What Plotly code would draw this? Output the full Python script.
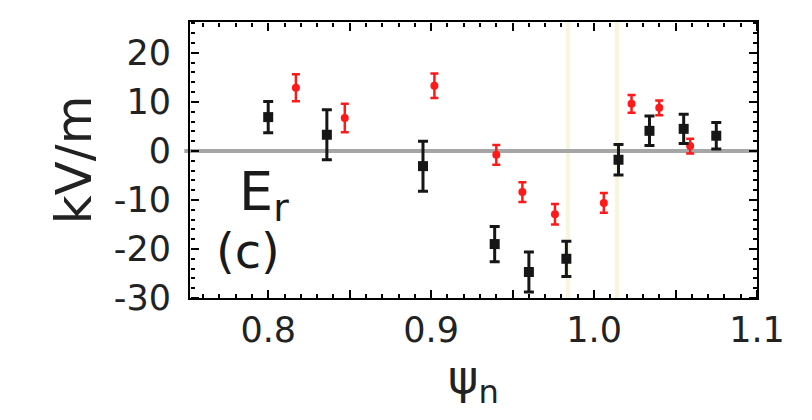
import plotly.graph_objects as go

# Black series (squares)
bx = [0.800, 0.836, 0.895, 0.939, 0.960, 0.983, 1.015, 1.034, 1.055, 1.075]
by = [6.9, 3.3, -3.1, -19.0, -24.7, -22.0, -1.8, 4.1, 4.5, 3.1]
be = [3.2, 5.1, 5.1, 3.6, 4.1, 3.6, 3.1, 3.0, 3.0, 2.7]

# Red series (small dots)
rx = [0.817, 0.847, 0.902, 0.940, 0.956, 0.976, 1.006, 1.023, 1.040, 1.059]
ry = [12.9, 6.7, 13.3, -0.8, -8.4, -12.9, -10.6, 9.6, 8.8, 1.0]
re = [2.75, 2.9, 2.5, 2.0, 2.0, 2.1, 2.0, 1.8, 1.5, 1.5]

# Faint vertical reference lines
vlines = [0.984, 1.014]

XRANGE = [0.752, 1.1]
YRANGE = [-30, 26.3]
yalias = {"−10": "-10", "−20": "-20", "−30": "-30"}

FONT = "DejaVu Sans"
INK = "black"

fig = go.Figure()

fig.add_trace(go.Scatter(
    x=rx, y=ry, mode="markers",
    marker=dict(symbol="circle", size=8, color="#ff1a1a"),
    error_y=dict(type="data", array=re, visible=True, color="#ff1a1a",
                 thickness=2.5, width=4),
    showlegend=False,
))
fig.add_trace(go.Scatter(
    x=bx, y=by, mode="markers",
    marker=dict(symbol="square", size=10, color="#161616"),
    error_y=dict(type="data", array=be, visible=True, color="#161616",
                 thickness=3, width=5),
    showlegend=False,
))

# invisible carriers so the tick-only axes are rendered
for xa in ["x2", "x3"]:
    fig.add_trace(go.Scatter(x=[XRANGE[0]], y=[YRANGE[0]], xaxis=xa, yaxis="y",
                             mode="markers", marker=dict(opacity=0), hoverinfo="skip",
                             showlegend=False))
for ya in ["y2", "y3"]:
    fig.add_trace(go.Scatter(x=[XRANGE[0]], y=[YRANGE[0]], xaxis="x", yaxis=ya,
                             mode="markers", marker=dict(opacity=0), hoverinfo="skip",
                             showlegend=False))

for v in vlines:
    fig.add_shape(type="line", xref="x", yref="paper", x0=v, x1=v, y0=0, y1=1,
                  line=dict(color="#f6f6dc", width=4), layer="below")

fig.add_shape(type="line", xref="paper", yref="y", x0=-0.01, x1=1, y0=0, y1=0,
              line=dict(color="#a6a6a6", width=4), layer="below")

fig.add_annotation(x=0.781, y=-9.0, xref="x", yref="y", xanchor="left", yanchor="middle",
                   text="E<sub>r</sub>", showarrow=False,
                   font=dict(family=FONT, size=54, color="#1a1a1a"))
fig.add_annotation(x=0.767, y=-20.5, xref="x", yref="y", xanchor="left", yanchor="middle",
                   text="(c)", showarrow=False,
                   font=dict(family=FONT, size=48, color="#1a1a1a"))


def x_tick_axis(side, position):
    # outside ticks on an axis drawn at the opposite edge point into the plot
    return dict(range=XRANGE, overlaying="x", anchor="free", position=position,
                side=side, showgrid=False, zeroline=False, showline=False,
                showticklabels=False,
                tickmode="linear", tick0=0.8, dtick=0.05,
                ticks="outside", ticklen=8, tickwidth=2, tickcolor=INK,
                minor=dict(ticks="outside", ticklen=4, tickwidth=2, tickcolor=INK,
                           dtick=0.01, showgrid=False))


def y_tick_axis(side, position):
    return dict(range=YRANGE, overlaying="y", anchor="free", position=position,
                side=side, showgrid=False, zeroline=False, showline=False,
                showticklabels=False,
                tickmode="linear", tick0=0, dtick=10,
                ticks="outside", ticklen=8, tickwidth=2, tickcolor=INK,
                minor=dict(ticks="outside", ticklen=4, tickwidth=2, tickcolor=INK,
                           dtick=2, showgrid=False))


fig.update_layout(
    width=812, height=420,
    margin=dict(l=190, r=55, t=22, b=122),
    plot_bgcolor="white",
    xaxis=dict(
        range=XRANGE, showgrid=False, zeroline=False,
        showline=True, linecolor=INK, linewidth=2, mirror=True,
        tickmode="linear", tick0=0.8, dtick=0.1, tickformat=".1f",
        ticks="",
        tickfont=dict(family=FONT, size=35, color="#222"),
        title=dict(text="ψ<sub>n</sub>", font=dict(family=FONT, size=46, color="#222"),
                   standoff=10),
    ),
    yaxis=dict(
        range=YRANGE, showgrid=False, zeroline=False,
        showline=True, linecolor=INK, linewidth=2, mirror=True,
        tickmode="linear", tick0=0, dtick=10, labelalias=yalias,
        ticks="",
        tickfont=dict(family=FONT, size=35, color="#222"),
        ticklabelstandoff=10,
        title=dict(text="kV/m", font=dict(family=FONT, size=50, color="#222"),
                   standoff=6),
    ),
    xaxis2=x_tick_axis("top", 0),
    xaxis3=x_tick_axis("bottom", 1),
    yaxis2=y_tick_axis("right", 0),
    yaxis3=y_tick_axis("left", 1),
)

fig.write_html("out.html")
